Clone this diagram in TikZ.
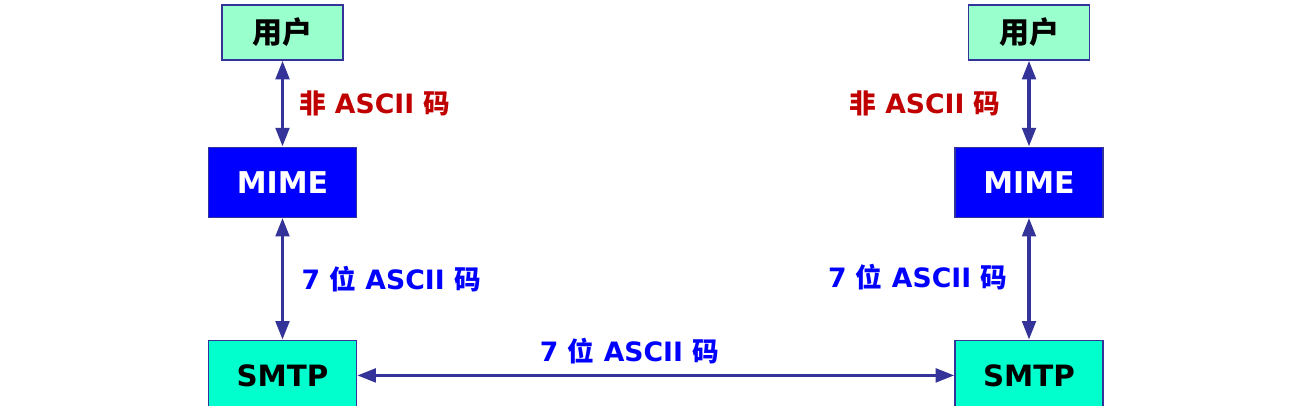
\documentclass[tikz,border=0pt]{standalone}
\usepackage{fontspec}
\setmainfont{DejaVu Sans}
\newfontfamily\cjk{Noto Sans CJK SC}
\newcommand{\zh}[1]{{\cjk\bfseries #1}}
\usetikzlibrary{arrows.meta, positioning}
\definecolor{edgeblue}{HTML}{333399}
\definecolor{userfill}{HTML}{99FFCC}
\definecolor{smtpfill}{HTML}{00FFCC}
\definecolor{labelred}{HTML}{C00000}
\definecolor{labelblue}{HTML}{0000FF}
\tikzstyle{box} = [rectangle, draw=edgeblue, line width=0.9pt, inner sep=0pt]
\tikzstyle{userbox} = [box, fill=userfill, minimum width=90.75pt, minimum height=41.25pt, font=\fontsize{22.5}{26}\selectfont]
\tikzstyle{mimebox} = [box, fill=blue, text=white, minimum width=111pt, minimum height=52.5pt, font=\bfseries\fontsize{22.5}{26}\selectfont]
\tikzstyle{smtpbox} = [box, fill=smtpfill, minimum width=111pt, minimum height=52.5pt, font=\bfseries\fontsize{22}{26}\selectfont]
\tikzstyle{arrow} = [line width=2.8pt, draw=edgeblue, {Triangle[length=14pt,width=10pt]}-{Triangle[length=14pt,width=10pt]}]
\tikzstyle{label} = [inner sep=0pt, font=\bfseries\fontsize{20}{24}\selectfont]

\begin{document}
\begin{tikzpicture}[x=0.75pt, y=-0.75pt]
		\useasboundingbox (0,0) rectangle (1313,406);
		% left side
		\node (UserLeft) [userbox] at (282.5,32.5) {\zh{用户}};
		\node (MimeLeft) [mimebox, below = 64.5pt of UserLeft] {MIME};
		\node (SmtpLeft) [smtpbox, below = 91.5pt of MimeLeft] {SMTP};
		% right side
		\node (UserRight) [userbox] at (1029,32.5) {\zh{用户}};
		\node (MimeRight) [mimebox, below = 64.5pt of UserRight] {MIME};
		\node (SmtpRight) [smtpbox, below = 91.5pt of MimeRight] {SMTP};
		\draw [arrow] (UserLeft) -- node (NonAsciiLeft) [label, labelred, right = 11pt] {\zh{非} ASCII \zh{码}} (MimeLeft);
		\draw [arrow] (MimeLeft) -- node (SevenBitLeft) [label, labelblue, right = 13pt] {7 \zh{位} ASCII \zh{码}} (SmtpLeft);
		\draw [arrow] (UserRight) -- node (NonAsciiRight) [label, labelred, left = 20pt] {\zh{非} ASCII \zh{码}} (MimeRight);
		\draw [arrow] (MimeRight) -- node (SevenBitRight) [label, labelblue, left = 15pt, yshift=1.5pt] {7 \zh{位} ASCII \zh{码}} (SmtpRight);
		\draw [arrow] (SmtpLeft) -- node (SevenBitMid) [label, labelblue, pos=0.456, yshift=18pt] {7 \zh{位} ASCII \zh{码}} (SmtpRight);
\end{tikzpicture}
\end{document}
